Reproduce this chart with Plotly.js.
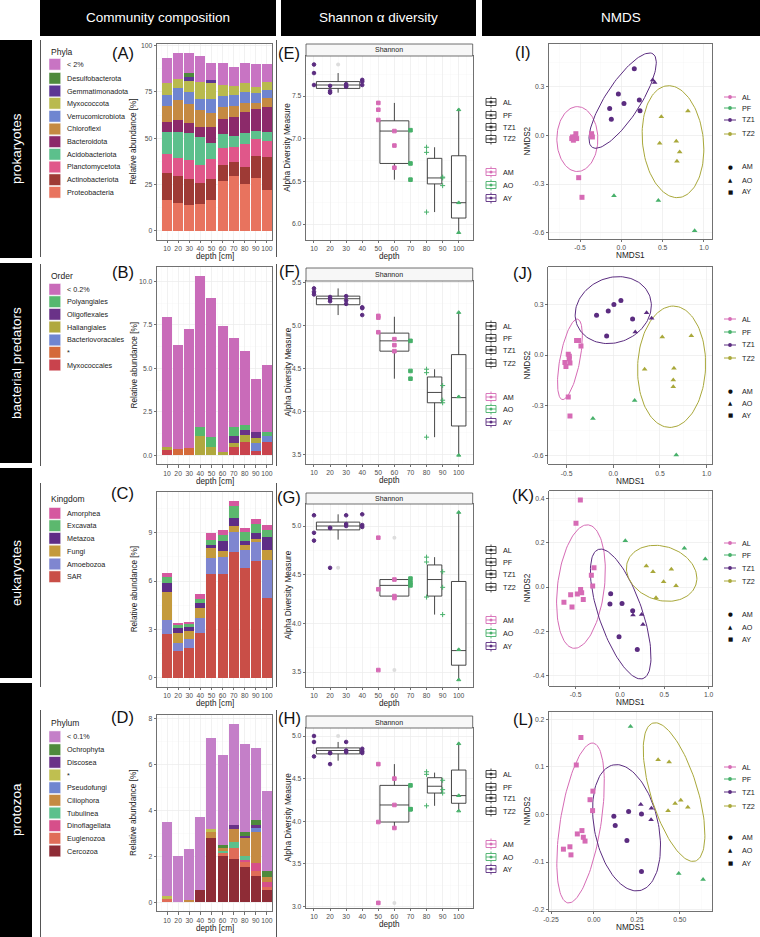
<!DOCTYPE html>
<html>
<head>
<meta charset="utf-8">
<script src="https://cdn.plot.ly/plotly-3.0.1.min.js"></script>
<style>html,body{margin:0;padding:0;background:#fff;}#chart{width:760px;height:937px;}</style>
</head>
<body>
<div id="chart"></div>
<script>
// ================= DATA =================
const depths = [10,20,30,40,50,60,70,80,90,100];
const depthLabels = ['10','20','30','40','50','60','70','80','90','100'];

// (A) prokaryotes - phyla, stacked bottom -> top, relative abundance [%]
const A_names = ['Proteobacteria','Actinobacteriota','Planctomycetota','Acidobacteriota','Bacteroidota','Chloroflexi','Verrucomicrobiota','Myxococcota','Gemmatimonadota','Desulfobacterota','< 2%'];
const A_Proteobacteria    = [16.5,15.1,14.0,14.4,16.7,27.0,29.7,25.2,28.6,22.1];
const A_Actinobacteriota  = [14.6,14.8,13.9,11.3,11.2,8.6,7.7,9.5,11.9,17.6];
const A_Planctomycetota   = [10.4,9.7,10.4,9.9,10.8,9.4,8.1,12.2,9.0,8.9];
const A_Acidobacteriota   = [12.1,14.0,14.4,15.3,9.0,7.2,5.9,5.8,4.6,4.6];
const A_Bacteroidota      = [5.0,6.3,5.4,5.4,8.2,8.1,10.3,11.7,11.5,13.9];
const A_Chloroflexi       = [8.8,10.8,10.4,9.0,7.6,6.8,5.9,4.8,3.6,4.5];
const A_Verrucomicrobiota = [6.0,6.3,6.7,5.9,7.5,5.7,5.8,5.6,5.4,4.5];
const A_Myxococcota       = [6.6,4.8,5.9,9.4,8.7,6.0,4.8,4.9,3.3,4.5];
const A_Gemmatimonadota   = [0,0,2.2,0,1.8,0,0,0,0,0];
const A_Desulfobacterota  = [0,0,1.8,0,0,0,0,0,0,0];
const A_lt2               = [13.2,14.4,11.1,14.0,9.3,11.7,10.5,11.1,12.2,9.5];

// (B) bacterial predators - order
const B_names = ['Myxococcales','*','Bacteriovoracales','Haliangiales','Oligoflexales','Polyangiales','< 0.2%'];
const B_Myxococcales      = [0.29,0,0,0,0,0,0.48,0.75,0.25,0.77];
const B_star              = [0,0.35,0.39,0,0,0,0,0,0,0];
const B_Bacteriovoracales = [0,0,0,0,0,0,0,0,0.48,0.31];
const B_Haliangiales      = [0.19,0,0,1.08,0.48,0.17,0.25,0.41,0.28,0];
const B_Oligoflexales     = [0,0,0,0,0,0,0.39,0.29,0.31,0];
const B_Polyangiales      = [0,0,0,0.56,0.58,0,0.52,0.31,0,0.24];
const B_lt02              = [7.47,6.01,6.86,8.69,8.01,7.26,5.13,4.24,3.05,3.90];

// (C) eukaryotes - kingdom
const C_names = ['SAR','Amoebozoa','Fungi','Metazoa','Excavata','Amorphea'];
const C_SAR       = [2.73,1.64,1.85,2.75,6.42,6.42,7.77,6.81,7.22,4.98];
const C_Amoebozoa = [0.86,0.55,0.55,0.94,1.02,1.10,1.25,1.14,1.18,2.34];
const C_Fungi     = [1.74,0.58,0.49,0.66,0.62,0.37,0.41,0.31,0.20,0.61];
const C_Metazoa   = [0.57,0.35,0.29,0.26,0.20,0.58,0.45,0.21,0.40,0.82];
const C_Excavata  = [0.35,0.14,0.14,0.25,0.31,0.39,0.78,0.55,0.53,0.41];
const C_Amorphea  = [0.27,0.12,0.14,0.33,0.39,0.30,0.31,0.25,0.31,0.31];

// (D) protozoa - phylum
const D_names = ['Cercozoa','Euglenozoa','Dinoflagellata','Tubulinea','Ciliophora','Pseudofungi','*','Discosea','Ochrophyta','< 0.1%'];
const D_Cercozoa       = [0,0,0,0.54,2.80,2.01,1.88,1.55,1.16,0.54];
const D_Euglenozoa     = [0.14,0,0,0,0,0.12,0.47,0.20,0.20,0.14];
const D_Dinoflagellata = [0,0,0,0,0,0,0,0.09,0.34,0.20];
const D_Tubulinea      = [0,0,0,0,0,0.12,0.26,0.17,0,0];
const D_Ciliophora     = [0,0,0.12,0,0.26,0.12,0.56,0.77,1.37,0.24];
const D_Pseudofungi    = [0,0,0,0,0,0,0,0,0.18,0];
const D_star           = [0.15,0,0,0,0.14,0,0,0,0,0];
const D_Discosea       = [0,0,0,0,0,0,0.19,0.12,0.11,0];
const D_Ochrophyta     = [0,0,0,0,0,0.10,0,0.14,0.22,0.26];
const D_lt01           = [3.22,2.03,2.21,3.16,3.93,3.95,4.41,3.84,3.14,3.45];

// Shannon alpha diversity (3 samples per depth)
const shDepth   = [10,10,10,20,20,20,30,30,30,40,40,40,50,50,50,60,60,60,70,70,70,80,80,80,90,90,90,100,100,100];
const shSite    = ['AL','AL','AL','AL','AL','AL','AL','AL','AL','AL','AL','AL','TZ1','TZ1','TZ1','TZ1','TZ1','TZ1','TZ1','TZ1','TZ1','TZ2','TZ2','TZ2','TZ2','TZ2','TZ2','PF','PF','PF'];
const shHorizon = ['AY','AY','AY','AY','AY','AY','AY','AY','AY','AY','AY','AY','AM','AM','AM','AM','AM','AM','AO','AO','AO','AO','AO','AO','AO','AO','AO','AO','AO','AO'];
const E_shannon = [7.87,7.77,7.63, 7.56,7.54,7.62, 7.61,7.62,7.64, 7.69,7.67,7.63, 7.42,7.34,7.22, 7.09,6.92,6.66, 7.10,6.71,6.52, 6.90,6.84,6.14, 6.55,6.54,6.45, 7.34,6.25,5.90];
const F_shannon = [5.43,5.39,5.36, 5.33,5.28,5.31, 5.34,5.29,5.25, 5.21,5.12,5.20, 5.11,5.09,4.92, 4.84,4.77,4.70, 4.82,4.47,4.38, 4.49,4.45,3.70, 4.30,4.13,4.10, 5.15,4.17,3.49];
const G_shannon = [5.11,4.93,4.85, 4.98,4.57,4.98, 5.11,5.02,5.00, 5.12,5.01,4.99, 4.88,4.35,3.52, 4.45,4.28,4.26, 4.46,4.42,4.39, 4.68,4.63,4.27, 4.53,4.37,4.09, 5.14,3.73,3.42];
const H_shannon = [5.00,4.93,4.76, 4.80,4.67,4.80, 4.93,4.83,4.81, 4.85,4.82,4.80, 4.67,3.99,3.04, 4.50,4.19,3.92, 4.42,4.14,4.14, 4.58,4.55,4.18, 4.48,4.37,4.33, 4.91,4.30,4.12];

// box statistics per site group (AL, TZ1, TZ2, PF)
const boxSites = ['AL','TZ1','TZ2','PF'];
const E_q1 = [7.59,6.71,6.47,6.07], E_med = [7.63,7.09,6.54,6.25], E_q3 = [7.67,7.21,6.77,6.80], E_lo = [7.54,6.52,6.14,5.91], E_hi = [7.77,7.42,6.90,7.35];
const F_q1 = [5.24,4.70,4.10,3.83], F_med = [5.31,4.82,4.22,4.16], F_q3 = [5.34,4.91,4.40,4.66], F_lo = [5.12,4.38,3.70,3.49], F_hi = [5.43,5.10,4.49,5.15];
const G_q1 = [4.96,4.28,4.28,3.57], G_med = [5.00,4.39,4.45,3.72], G_q3 = [5.04,4.45,4.60,4.43], G_lo = [4.86,4.26,4.09,3.42], G_hi = [5.12,4.46,4.68,5.14];
const H_q1 = [4.79,3.99,4.33,4.21], H_med = [4.83,4.19,4.41,4.30], H_q3 = [4.86,4.42,4.51,4.60], H_lo = [4.71,3.92,4.18,4.12], H_hi = [4.93,4.67,4.57,4.91];
// boxplot outliers (drawn at box position)
const E_outSite = ['AL'], E_outVal = [7.87];
const F_outSite = [], F_outVal = [];
const G_outSite = ['AL','TZ1','TZ1'], G_outVal = [4.57,4.88,3.52];
const H_outSite = ['AL','TZ1'], H_outVal = [5.00,3.04];

// NMDS ordinations
const I_x = [-0.60,-0.59,-0.58,-0.57,-0.56,-0.55,-0.54,-0.36,-0.35,-0.36,-0.516,-0.476, 0.157,-0.036,0.032,-0.141,-0.121,0.218,0.226, 0.379,0.403, 0.484,0.806,0.464,0.665,0.706,0.673, -0.089,0.448,0.887];
const I_y = [-0.02,-0.01,-0.03,-0.02,-0.01,0.01,-0.02,0.00,-0.01,0.01,-0.261,-0.382, 0.411,0.255,0.197,0.166,0.099,0.218,0.152, 0.341,0.325, 0.115,0.150,-0.049,-0.037,-0.103,-0.160, -0.372,-0.401,-0.588];
const J_x = [-0.393,-0.371,-0.346,-0.482,-0.471,-0.471,-0.518,-0.507,-0.464,-0.482,-0.464, -0.179,-0.054,0.007,0.082,0.207,-0.071, 0.357,0.411,0.236, 0.525,0.836,0.336,0.650,0.643,0.643, -0.218,0.229,0.675];
const J_y = [0.087,0.087,0.054,0.004,-0.008,-0.022,-0.044,-0.068,-0.048,-0.250,-0.364, 0.238,0.262,0.302,0.326,0.215,0.113, 0.252,0.219,0.137, 0.107,0.115,-0.085,-0.079,-0.149,-0.189, -0.378,-0.272,-0.596];
const K_x = [-0.447,-0.496,-0.293,-0.323,-0.308,-0.444,-0.432,-0.481,-0.556,-0.632,-0.541,-0.414, -0.105,-0.113,0.023,0.143,-0.011,0.195, 0.147,0.244,0.259, 0.297,0.372,0.579,0.492,0.632,0.406, 0.060,0.726,0.962];
const K_y = [0.393,0.288,0.087,0.053,0.005,-0.011,-0.026,-0.032,-0.035,-0.069,-0.090,-0.056, -0.030,-0.077,-0.075,-0.107,-0.225,-0.283, -0.127,-0.124,-0.170, 0.095,0.069,0.080,0.024,0.006,-0.048, 0.209,0.175,0.127];
const L_x = [-0.076,-0.103,-0.006,-0.023,-0.008,-0.070,-0.097,-0.062,-0.052,-0.140,-0.178,-0.134, 0.116,0.124,0.202,0.277,0.192,0.277, 0.273,0.335,0.333, 0.374,0.438,0.473,0.506,0.547,0.432, 0.213,0.494,0.636];
const L_y = [0.162,0.104,0.049,0.031,0.008,-0.034,-0.041,-0.048,-0.056,-0.068,-0.073,-0.085, -0.004,-0.023,0.006,0.001,-0.055,-0.120, 0.021,0.013,-0.011, 0.115,0.110,0.023,0.030,0.015,0.008, 0.185,-0.124,-0.137];
const I_site = ['AL','AL','AL','AL','AL','AL','AL','AL','AL','AL','AL','AL','TZ1','TZ1','TZ1','TZ1','TZ1','TZ1','TZ1','TZ1','TZ1','TZ2','TZ2','TZ2','TZ2','TZ2','TZ2','PF','PF','PF'];
const I_hor  = ['AY','AY','AY','AY','AY','AY','AY','AY','AY','AY','AY','AY','AM','AM','AM','AM','AM','AM','AM','AO','AO','AO','AO','AO','AO','AO','AO','AO','AO','AO'];
const J_site = ['AL','AL','AL','AL','AL','AL','AL','AL','AL','AL','AL','TZ1','TZ1','TZ1','TZ1','TZ1','TZ1','TZ1','TZ1','TZ1','TZ2','TZ2','TZ2','TZ2','TZ2','TZ2','PF','PF','PF'];
const J_hor  = ['AY','AY','AY','AY','AY','AY','AY','AY','AY','AY','AY','AM','AM','AM','AM','AM','AM','AO','AO','AO','AO','AO','AO','AO','AO','AO','AO','AO','AO'];
const K_site = ['AL','AL','AL','AL','AL','AL','AL','AL','AL','AL','AL','AL','TZ1','TZ1','TZ1','TZ1','TZ1','TZ1','TZ1','TZ1','TZ1','TZ2','TZ2','TZ2','TZ2','TZ2','TZ2','PF','PF','PF'];
const K_hor  = ['AY','AY','AY','AY','AY','AY','AY','AY','AY','AY','AY','AY','AM','AM','AM','AM','AM','AM','AO','AO','AO','AO','AO','AO','AO','AO','AO','AO','AO','AO'];
const L_site = K_site;
const L_hor  = K_hor;

// 95% ellipses: centre (x,y), semi-diameter u (x,y), conjugate semi-diameter v (x,y)
const I_ellAL  = [-0.532,-0.023, 0.000,0.200, 0.248,0.000];
const I_ellTZ1 = [0.016,0.214, 0.367,0.288, 0.176,-0.058];
const I_ellTZ2 = [0.625,-0.039, -0.040,0.345, 0.371,-0.010];
const J_ellAL  = [-0.464,-0.026, 0.082,0.240, 0.105,-0.011];
const J_ellTZ1 = [0.000,0.268, 0.393,0.080, 0.110,-0.183];
const J_ellTZ2 = [0.625,-0.070, 0.018,0.362, 0.364,0.000];
const K_ellAL  = [-0.440,0.002, 0.083,0.279, 0.262,-0.012];
const K_ellTZ1 = [0.008,-0.122, -0.252,0.292, 0.231,0.032];
const K_ellTZ2 = [0.470,0.062, 0.385,-0.053, -0.098,-0.115];
const L_ellAL  = [-0.078,-0.018, 0.074,0.168, 0.117,-0.007];
const L_ellTZ1 = [0.190,-0.028, -0.078,0.132, 0.182,0.014];
const L_ellTZ2 = [0.467,0.047, -0.124,0.145, 0.130,0.015];

// ================= STYLE =================
const FONT = 'Liberation Sans, Arial, sans-serif';
const W = 760, H = 937;
const X = v => v / W;
const Y = v => 1 - v / H;
const A_colors = ['#E8735E','#9E3A35','#E0578A','#5CC08C','#8C2A6A','#C58A42','#6F85D0','#B9BA4E','#5C3694','#4E8A3C','#C874C3'];
const B_colors = ['#C9434D','#D46A3A','#6F85D0','#B0A83E','#6A3288','#55B86E','#C96BB9'];
const C_colors = ['#C94E47','#7F86D0','#C49A3C','#5E2D86','#5CB86E','#D5589F'];
const D_colors = ['#8E2C36','#E06C58','#D64F8A','#5CC08C','#C58A42','#6F85D0','#BFBF50','#6A3288','#4E8A3C','#C47FC8'];
const siteColor = {AL:'#D66BB5', PF:'#47B06A', TZ1:'#5B2C80', TZ2:'#A9A83A'};
const horColor  = {AM:'#D66BB5', AO:'#47B06A', AY:'#5B2C80'};
const siteSymbol = {AL:'circle', PF:'triangle-up', TZ1:'square', TZ2:'cross-thin'};
const horSymbol  = {AM:'circle', AO:'triangle-up', AY:'square'};

// panel plot areas in pixels [left, right, top, bottom]
const geom = {
  A:[157,272.3,43.8,239.9], B:[157,272.3,266.7,464.3], C:[157,272.3,492,686.7], D:[157,272.3,714.6,911.3],
  E:[306,472.7,56,239.7],  F:[306,472.7,281,464],     G:[306,472.7,504,687],   H:[306,472.7,728,908],
  I:[549,712,44,239],      J:[548.3,712.3,266.7,464.3], K:[549.3,712.3,490.7,686], L:[549,712,711.7,911]
};
const panels = ['A','B','C','D','E','F','G','H','I','J','K','L'];
const ids = {};
panels.forEach((p,i) => { const n = i === 0 ? '' : String(i+1); ids[p] = {xa:'xaxis'+n, ya:'yaxis'+n, x:'x'+n, y:'y'+n}; });

function axis(extra) {
  return Object.assign({
    showline:true, mirror:true, linecolor:'#4d4d4d', linewidth:0.8,
    ticks:'outside', ticklen:2.5, tickwidth:0.8, tickcolor:'#4d4d4d', tickangle:0,
    tickfont:{family:FONT, size:6.8, color:'#4d4d4d'},
    showgrid:true, gridcolor:'#ebebeb', gridwidth:0.7, zeroline:false,
    fixedrange:true, automargin:false, tickmode:'array'
  }, extra);
}
function minor(t0, dt) { return {tickmode:'linear', tick0:t0, dtick:dt, showgrid:true, gridcolor:'#f4f4f4', gridwidth:0.4}; }

const layout = {
  width:W, height:H, margin:{l:0,r:0,t:0,b:0}, paper_bgcolor:'#ffffff', plot_bgcolor:'#ffffff',
  showlegend:false, barmode:'stack', boxmode:'overlay', font:{family:FONT, color:'#222'},
  shapes:[], annotations:[]
};

const yConf = {
  A:{range:[-4.81,101.0], tickvals:[0,25,50,75,100], ticktext:['0','25','50','75','100'], minor:minor(12.5,25)},
  B:{range:[-0.52,10.85], tickvals:[0,2.5,5,7.5,10], ticktext:['0.0','2.5','5.0','7.5','10.0'], minor:minor(1.25,2.5)},
  C:{range:[-0.55,11.52], tickvals:[0,3,6,9], ticktext:['0','3','6','9'], minor:minor(1.5,3)},
  D:{range:[-0.39,8.16], tickvals:[0,2,4,6,8], ticktext:['0','2','4','6','8'], minor:minor(1,2)},
  E:{range:[5.816,7.97], tickvals:[6,6.5,7,7.5], ticktext:['6.0','6.5','7.0','7.5'], minor:minor(5.75,0.5)},
  F:{range:[3.388,5.516], tickvals:[3.5,4,4.5,5,5.5], ticktext:['3.5','4.0','4.5','5.0','5.5'], minor:minor(3.25,0.5)},
  G:{range:[3.346,5.226], tickvals:[3.5,4,4.5,5], ticktext:['3.5','4.0','4.5','5.0'], minor:minor(3.25,0.5)},
  H:{range:[2.98,5.094], tickvals:[3,3.5,4,4.5,5], ticktext:['3.0','3.5','4.0','4.5','5.0'], minor:minor(2.75,0.5)},
  I:{range:[-0.639,0.563], tickvals:[-0.6,-0.3,0,0.3], ticktext:['-0.6','-0.3','0.0','0.3'], minor:minor(-0.45,0.3)},
  J:{range:[-0.652,0.527], tickvals:[-0.6,-0.3,0,0.3], ticktext:['-0.6','-0.3','0.0','0.3'], minor:minor(-0.45,0.3)},
  K:{range:[-0.4476,0.4356], tickvals:[-0.4,-0.2,0,0.2,0.4], ticktext:['-0.4','-0.2','0.0','0.2','0.4'], minor:minor(-0.3,0.2)},
  L:{range:[-0.203,0.216], tickvals:[-0.2,-0.1,0,0.1,0.2], ticktext:['-0.2','-0.1','0.0','0.1','0.2'], minor:minor(-0.15,0.1)}
};
const depthX = {tickvals:depths, ticktext:depthLabels, minor:minor(5,10)};
const xConf = {
  A:Object.assign({range:[0.97,104.8]}, depthX), B:Object.assign({range:[0.97,104.8]}, depthX),
  C:Object.assign({range:[0.97,104.8]}, depthX), D:Object.assign({range:[0.97,104.8]}, depthX),
  E:Object.assign({range:[5.03,108.7]}, depthX), F:Object.assign({range:[5.03,108.7]}, depthX),
  G:Object.assign({range:[5.03,108.7]}, depthX), H:Object.assign({range:[5.03,108.7]}, depthX),
  I:{range:[-0.875,1.097], tickvals:[-0.5,0,0.5,1], ticktext:['-0.5','0.0','0.5','1.0'], minor:minor(-0.75,0.5)},
  J:{range:[-0.696,1.061], tickvals:[-0.5,0,0.5,1], ticktext:['-0.5','0.0','0.5','1.0'], minor:minor(-0.75,0.5)},
  K:{range:[-0.797,1.041], tickvals:[-0.5,0,0.5,1], ticktext:['-0.5','0.0','0.5','1.0'], minor:minor(-0.75,0.5)},
  L:{range:[-0.262,0.688], tickvals:[-0.25,0,0.25,0.5], ticktext:['-0.25','0.00','0.25','0.50'], minor:minor(-0.125,0.25)}
};
panels.forEach(p => {
  const g = geom[p], id = ids[p];
  layout[id.xa] = axis(Object.assign({domain:[X(g[0]), X(g[1])], anchor:id.y}, xConf[p]));
  layout[id.ya] = axis(Object.assign({domain:[Y(g[3]), Y(g[2])], anchor:id.x}, yConf[p]));
});

const traces = [];

// ---------- stacked bars ----------
function bars(p, names, values, colors) {
  names.forEach((nm, i) => {
    traces.push({type:'bar', x:depths, y:values[i], name:nm, width:9,
      marker:{color:colors[i], line:{width:0}}, xaxis:ids[p].x, yaxis:ids[p].y, hoverinfo:'skip'});
  });
}
bars('A', A_names, [A_Proteobacteria,A_Actinobacteriota,A_Planctomycetota,A_Acidobacteriota,A_Bacteroidota,A_Chloroflexi,A_Verrucomicrobiota,A_Myxococcota,A_Gemmatimonadota,A_Desulfobacterota,A_lt2], A_colors);
bars('B', B_names, [B_Myxococcales,B_star,B_Bacteriovoracales,B_Haliangiales,B_Oligoflexales,B_Polyangiales,B_lt02], B_colors);
bars('C', C_names, [C_SAR,C_Amoebozoa,C_Fungi,C_Metazoa,C_Excavata,C_Amorphea], C_colors);
bars('D', D_names, [D_Cercozoa,D_Euglenozoa,D_Dinoflagellata,D_Tubulinea,D_Ciliophora,D_Pseudofungi,D_star,D_Discosea,D_Ochrophyta,D_lt01], D_colors);

// ---------- Shannon boxplots ----------
function boxGeom(site) {
  const d = shDepth.filter((v,i) => shSite[i] === site);
  const lo = Math.min(...d), hi = Math.max(...d);
  return {x:(lo+hi)/2, w: hi > lo ? 0.9*(hi-lo) : 0.9*10};
}
function shannon(p, vals, q1, med, q3, lo, hi, outSite, outVal) {
  boxSites.forEach((s, i) => {
    const b = boxGeom(s);
    traces.push({type:'box', x:[b.x], q1:[q1[i]], median:[med[i]], q3:[q3[i]], lowerfence:[lo[i]], upperfence:[hi[i]],
      width:b.w, whiskerwidth:0, boxpoints:false, line:{color:'#333333', width:0.9}, fillcolor:'#ffffff',
      xaxis:ids[p].x, yaxis:ids[p].y, hoverinfo:'skip'});
  });
  if (outVal.length) {
    traces.push({type:'scatter', mode:'markers', x:outSite.map(s => boxGeom(s).x), y:outVal,
      marker:{color:'#dddddd', size:4, symbol:'circle'}, xaxis:ids[p].x, yaxis:ids[p].y, hoverinfo:'skip'});
  }
  const cols = shHorizon.map(h => horColor[h]);
  traces.push({type:'scatter', mode:'markers', x:shDepth, y:vals,
    marker:{color:cols, size:3.6, symbol:shSite.map(s => siteSymbol[s]), line:{color:cols, width:1}},
    xaxis:ids[p].x, yaxis:ids[p].y, hoverinfo:'skip'});
}
shannon('E', E_shannon, E_q1, E_med, E_q3, E_lo, E_hi, E_outSite, E_outVal);
shannon('F', F_shannon, F_q1, F_med, F_q3, F_lo, F_hi, F_outSite, F_outVal);
shannon('G', G_shannon, G_q1, G_med, G_q3, G_lo, G_hi, G_outSite, G_outVal);
shannon('H', H_shannon, H_q1, H_med, H_q3, H_lo, H_hi, H_outSite, H_outVal);

// ---------- NMDS ----------
function ellipse(e) {
  const xs = [], ys = [];
  for (let i = 0; i <= 120; i++) {
    const t = 2*Math.PI*i/120;
    xs.push(e[0] + e[2]*Math.cos(t) + e[4]*Math.sin(t));
    ys.push(e[1] + e[3]*Math.cos(t) + e[5]*Math.sin(t));
  }
  return {xs, ys};
}
function nmds(p, xs, ys, site, hor, ells) {
  [['AL',ells[0]],['TZ1',ells[1]],['TZ2',ells[2]]].forEach(([s,e]) => {
    const el = ellipse(e);
    traces.push({type:'scatter', mode:'lines', x:el.xs, y:el.ys, line:{color:siteColor[s], width:1},
      xaxis:ids[p].x, yaxis:ids[p].y, hoverinfo:'skip'});
  });
  traces.push({type:'scatter', mode:'markers', x:xs, y:ys,
    marker:{color:site.map(s => siteColor[s]), symbol:hor.map(h => horSymbol[h]), size:5, line:{width:0}},
    xaxis:ids[p].x, yaxis:ids[p].y, hoverinfo:'skip'});
}
nmds('I', I_x, I_y, I_site, I_hor, [I_ellAL, I_ellTZ1, I_ellTZ2]);
nmds('J', J_x, J_y, J_site, J_hor, [J_ellAL, J_ellTZ1, J_ellTZ2]);
nmds('K', K_x, K_y, K_site, K_hor, [K_ellAL, K_ellTZ1, K_ellTZ2]);
nmds('L', L_x, L_y, L_site, L_hor, [L_ellAL, L_ellTZ1, L_ellTZ2]);

// ================= DECORATION =================
const S = layout.shapes, N = layout.annotations;
function rect(x0,y0,x1,y1,fill,line,lw) { S.push({type:'rect', xref:'paper', yref:'paper', x0:X(x0), x1:X(x1), y0:Y(y1), y1:Y(y0), fillcolor:fill||'rgba(0,0,0,0)', line:{color:line||'rgba(0,0,0,0)', width:lw||0}}); }
function seg(x0,y0,x1,y1,color,lw) { S.push({type:'line', xref:'paper', yref:'paper', x0:X(x0), x1:X(x1), y0:Y(y0), y1:Y(y1), line:{color:color, width:lw||1}}); }
function circ(cx,cy,r,color) { S.push({type:'circle', xref:'paper', yref:'paper', x0:X(cx-r), x1:X(cx+r), y0:Y(cy+r), y1:Y(cy-r), fillcolor:color, line:{width:0}}); }
function txt(x,y,t,size,color,xa,opts) { N.push(Object.assign({xref:'paper', yref:'paper', x:X(x), y:Y(y), text:t, showarrow:false, xanchor:xa||'center', yanchor:'middle', font:{family:FONT, size:size, color:color||'#222'}}, opts||{})); }

// header boxes
rect(40,0,276,36,'#000000'); txt(158,18,'Community composition',13.5,'#ffffff');
rect(281,0,476,36,'#000000'); txt(378.5,18,'Shannon α diversity',13.5,'#ffffff');
rect(482,0,760,36,'#000000'); txt(621,18,'NMDS',13.5,'#ffffff');
[['prokaryotes',40,258],['bacterial predators',263,463],['eukaryotes',468,678],['protozoa',683,937]].forEach(r => {
  rect(0,r[1],32,r[2],'#000000'); txt(16,(r[1]+r[2])/2,r[0],13.5,'#ffffff','center',{textangle:-90});
});
// cell frames (left edges)
[[40,257],[264,466],[483,687],[710,937]].forEach(r => { seg(40.5,r[0],40.5,r[1],'#555',1); seg(276.5,r[0],276.5,r[1],'#555',1); });

// panel letters
[['(A)',122.7,53.3],['(B)',122.7,272.3],['(C)',122.7,493.3],['(D)',122.7,716.7],
 ['(E)',289,52.7],['(F)',289,270.8],['(G)',289,496.7],['(H)',289,718.3],
 ['(I)',522.7,51.7],['(J)',522.7,273.3],['(K)',523.3,495],['(L)',522.7,719.3]].forEach(l => txt(l[1],l[2],l[0],16.5,'#111'));

// axis titles
['A','B','C','D','E','F','G','H','I','J','K','L'].forEach(p => {
  const g = geom[p], cx = (g[0]+g[1])/2, cy = (g[2]+g[3])/2;
  const col = 'ABCD'.includes(p) ? 0 : ('EFGH'.includes(p) ? 1 : 2);
  const xt = ['depth [cm]','depth','NMDS1'][col];
  const yt = ['Relative abundance [%]','Alpha Diversity Measure','NMDS2'][col];
  const yx = [134,288,527][col];
  txt(cx, g[3]+16.8, xt, 8.2, '#222');
  txt(yx, cy, yt, 8.2, '#222', 'center', {textangle:-90});
});

// Shannon strips
[['E',44,56],['F',268,281],['G',493,504],['H',716,728]].forEach(s => {
  const g = geom[s[0]];
  rect(g[0], s[1], g[1], s[2], '#f7f7f7', '#4d4d4d', 0.8);
  txt((g[0]+g[1])/2, (s[1]+s[2])/2, 'Shannon', 7, '#222');
});

// bar legends
function barLegend(title, titleY, names, colors, ys) {
  txt(48.5, titleY, title, 8.5, '#222', 'left');
  names.forEach((nm, i) => {
    rect(49, ys[i]-5.8, 60.7, ys[i]+5.8, colors[i], '#ffffff', 0.5);
    txt(65, ys[i], nm, 7.2, '#222', 'left');
  });
}
barLegend('Phyla', 51.7, A_names.slice().reverse(), A_colors.slice().reverse(), [64.3,78.3,91,103.3,116.3,129,141.7,154.3,167,179.7,192.3]);
barLegend('Order', 275.7, B_names.slice().reverse(), B_colors.slice().reverse(), [289.3,301.7,314.3,327,340,352.3,365]);
barLegend('Kingdom', 499.3, C_names.slice().reverse(), C_colors.slice().reverse(), [513.3,525.7,538.3,551,564,576.7]);
barLegend('Phylum', 723.3, D_names.slice().reverse(), D_colors.slice().reverse(), [736.7,749.7,762.3,775,787.7,800.3,813,825.7,838.3,851]);

// Shannon legends (boxplot keys) between Shannon and NMDS columns
function boxKey(cy, color, sym) {
  rect(486, cy-3.5, 496, cy+3.5, '#ffffff', color, 0.9);
  seg(486, cy, 496, cy, color, 0.9);
  seg(491, cy-5.5, 491, cy-3.5, color, 0.9);
  seg(491, cy+3.5, 491, cy+5.5, color, 0.9);
  if (sym === 'circle') circ(491, cy, 1.5, color);
  else if (sym === 'square') rect(489.6, cy-1.4, 492.4, cy+1.4, color);
  else if (sym === 'triangle') S.push({type:'path', xref:'paper', yref:'paper', path:`M ${X(489.3)},${Y(cy+1.4)} L ${X(492.7)},${Y(cy+1.4)} L ${X(491)},${Y(cy-1.7)} Z`, fillcolor:color, line:{width:0}});
  else if (sym === 'plus') { seg(489.2, cy, 492.8, cy, color, 0.9); seg(491, cy-1.8, 491, cy+1.8, color, 0.9); }
}
function shLegend(ys) {
  const siteKeys = [['AL','circle'],['PF','triangle'],['TZ1','square'],['TZ2','plus']];
  siteKeys.forEach((k, i) => { boxKey(ys[i], '#333333', k[1]); txt(500.5, ys[i], k[0], 7.2, '#222', 'left'); });
  ['AM','AO','AY'].forEach((h, i) => { boxKey(ys[4+i], horColor[h], 'circle'); txt(500.5, ys[4+i], h, 7.2, '#222', 'left'); });
}
shLegend([102,115,127,139,172,185,198]);
shLegend([326,338,350,363,397,409,422]);
shLegend([550,562,574,587,620,633,646]);
shLegend([774,787,798,811,844,857,869]);

// NMDS legends
function nmLegend(ys) {
  ['AL','PF','TZ1','TZ2'].forEach((s, i) => {
    seg(724, ys[i], 736, ys[i], siteColor[s], 1);
    circ(730, ys[i], 1.9, siteColor[s]);
    txt(740, ys[i], s, 7.2, '#222', 'left');
  });
  [['AM','●',5.5],['AO','▲',5.5],['AY','■',5.5]].forEach((h, i) => {
    txt(730, ys[4+i], h[1], h[2], '#111', 'center', {font:{family:'DejaVu Sans', size:h[2], color:'#111'}});
    txt(740, ys[4+i], h[0], 7.2, '#222', 'left');
  });
}
nmLegend([97,108,120,134,167,180,192]);
nmLegend([319,332,345,358,391,403,415]);
nmLegend([543,555,568,581,614,627,639]);
nmLegend([767,779,792,806,837,850,863]);

Plotly.newPlot('chart', traces, layout, {staticPlot:true, displayModeBar:false});
</script>
</body>
</html>
